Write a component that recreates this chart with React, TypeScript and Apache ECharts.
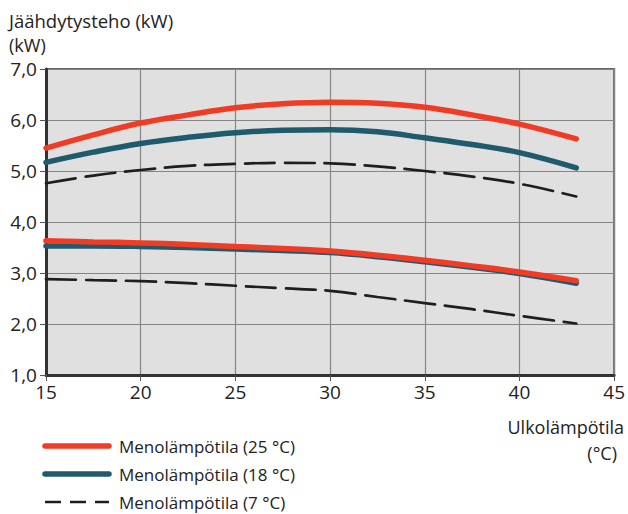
import React, { useEffect, useRef } from "react";
import * as echarts from "echarts";

const xTemps = [15, 17.5, 20, 22.5, 25, 27.5, 30, 32.5, 35, 37.5, 40, 43];

const red25Upper = [5.45, 5.71, 5.94, 6.1, 6.24, 6.32, 6.35, 6.33, 6.25, 6.1, 5.92, 5.63];
const blue18Upper = [5.17, 5.37, 5.54, 5.66, 5.75, 5.8, 5.81, 5.77, 5.65, 5.52, 5.36, 5.06];
const black7Upper = [4.76, 4.91, 5.02, 5.1, 5.14, 5.16, 5.15, 5.09, 5.0, 4.89, 4.75, 4.5];

const red25Lower = [3.63, 3.61, 3.59, 3.56, 3.52, 3.48, 3.43, 3.35, 3.25, 3.14, 3.02, 2.85];
const blue18Lower = [3.53, 3.53, 3.52, 3.5, 3.47, 3.44, 3.4, 3.32, 3.22, 3.11, 2.99, 2.8];
const black7Lower = [2.88, 2.86, 2.84, 2.8, 2.75, 2.7, 2.65, 2.53, 2.41, 2.29, 2.16, 2.01];

const legendNames = ["Menolämpötila (25 °C)", "Menolämpötila (18 °C)", "Menolämpötila (7 °C)"];
const yTitle = "Jäähdytysteho (kW)";
const yUnit = "(kW)";
const xTitle = "Ulkolämpötila";
const xUnit = "(°C)";

const RED = "#f03c24";
const BLUE = "#1f5a6d";
const BLACK = "#1e1e1e";
const FONT = "'Open Sans', 'Noto Sans', sans-serif";
const TXT = "#222";

function pairs(vals: number[]) {
  return xTemps.map((x, i) => [x, vals[i]]);
}

export default function App() {
  const ref = useRef<HTMLDivElement>(null);
  useEffect(() => {
    if (!ref.current) return;
    const chart = echarts.init(ref.current, undefined, { renderer: "svg" });
    const solid = (name: string, data: number[], color: string) => ({
      type: "line",
      name,
      data: pairs(data),
      smooth: 0.4,
      showSymbol: false,
      lineStyle: { color, width: 5.5, cap: "round" },
      itemStyle: { color },
    });
    const dashed = (name: string, data: number[]) => ({
      type: "line",
      name,
      data: pairs(data),
      smooth: 0.4,
      showSymbol: false,
      lineStyle: { color: BLACK, width: 2.7, type: [30, 10], cap: "round" },
      itemStyle: { color: BLACK },
    });
    const legendY = [446, 474, 502];
    const legendGraphics: any[] = [];
    const legendStyles = [
      { stroke: RED, lineWidth: 5.5, lineCap: "round" },
      { stroke: BLUE, lineWidth: 5.5, lineCap: "round" },
      { stroke: BLACK, lineWidth: 2.7, lineDash: [16, 9] },
    ];
    legendNames.forEach((n, i) => {
      legendGraphics.push({
        type: "line",
        shape: { x1: 45, y1: legendY[i], x2: 109, y2: legendY[i] },
        style: legendStyles[i],
      });
      legendGraphics.push({
        type: "text",
        x: 119,
        y: legendY[i],
        style: { text: n, font: `17px ${FONT}`, fill: TXT, textVerticalAlign: "middle" },
      });
    });
    chart.setOption({
      animation: false,
      grid: { left: 46, right: 13, top: 69, bottom: 139, show: true, backgroundColor: "#e0e0e0", borderColor: "#666", borderWidth: 2 },
      xAxis: {
        type: "value",
        min: 15,
        max: 45,
        interval: 5,
        axisLine: { show: true, onZero: false, lineStyle: { color: "#333", width: 3 } },
        axisTick: { show: true, length: 6, lineStyle: { color: "#555", width: 1 } },
        axisLabel: {
          color: TXT,
          fontSize: 19,
          fontFamily: FONT,
          margin: 7,
          showMaxLabel: true,
          showMinLabel: true,
          alignMaxLabel: "center",
          alignMinLabel: "center",
        },
        splitLine: { show: true, lineStyle: { color: "#858585", width: 1.2 } },
      },
      yAxis: {
        type: "value",
        min: 1,
        max: 7,
        interval: 1,
        axisLine: { show: true, onZero: false, lineStyle: { color: "#333", width: 3 } },
        axisTick: { show: true, length: 6, lineStyle: { color: "#555", width: 1 } },
        axisLabel: {
          color: TXT,
          fontSize: 19,
          fontFamily: FONT,
          margin: 9,
          formatter: (v: number) => v.toFixed(1).replace(".", ","),
        },
        splitLine: { show: true, lineStyle: { color: "#858585", width: 1.2 } },
      },
      series: [
        dashed(legendNames[2], black7Upper),
        dashed(legendNames[2], black7Lower),
        solid(legendNames[1], blue18Upper, BLUE),
        solid(legendNames[1], blue18Lower, BLUE),
        solid(legendNames[0], red25Upper, RED),
        solid(legendNames[0], red25Lower, RED),
      ],
      graphic: [
        { type: "text", x: 9, y: 20, style: { text: yTitle, font: `18.5px ${FONT}`, fill: TXT, textVerticalAlign: "middle" } },
        { type: "text", x: 9, y: 45, style: { text: yUnit, font: `18px ${FONT}`, fill: TXT, textVerticalAlign: "middle" } },
        { type: "text", x: 624, y: 427, style: { text: xTitle, font: `18px ${FONT}`, fill: TXT, textAlign: "right", textVerticalAlign: "middle" } },
        { type: "text", x: 617, y: 453, style: { text: xUnit, font: `18px ${FONT}`, fill: TXT, textAlign: "right", textVerticalAlign: "middle" } },
        ...legendGraphics,
      ],
    });
    return () => chart.dispose();
  }, []);
  return <div ref={ref} style={{ width: 628, height: 514, position: "absolute", left: 0, top: 0 }} />;
}
